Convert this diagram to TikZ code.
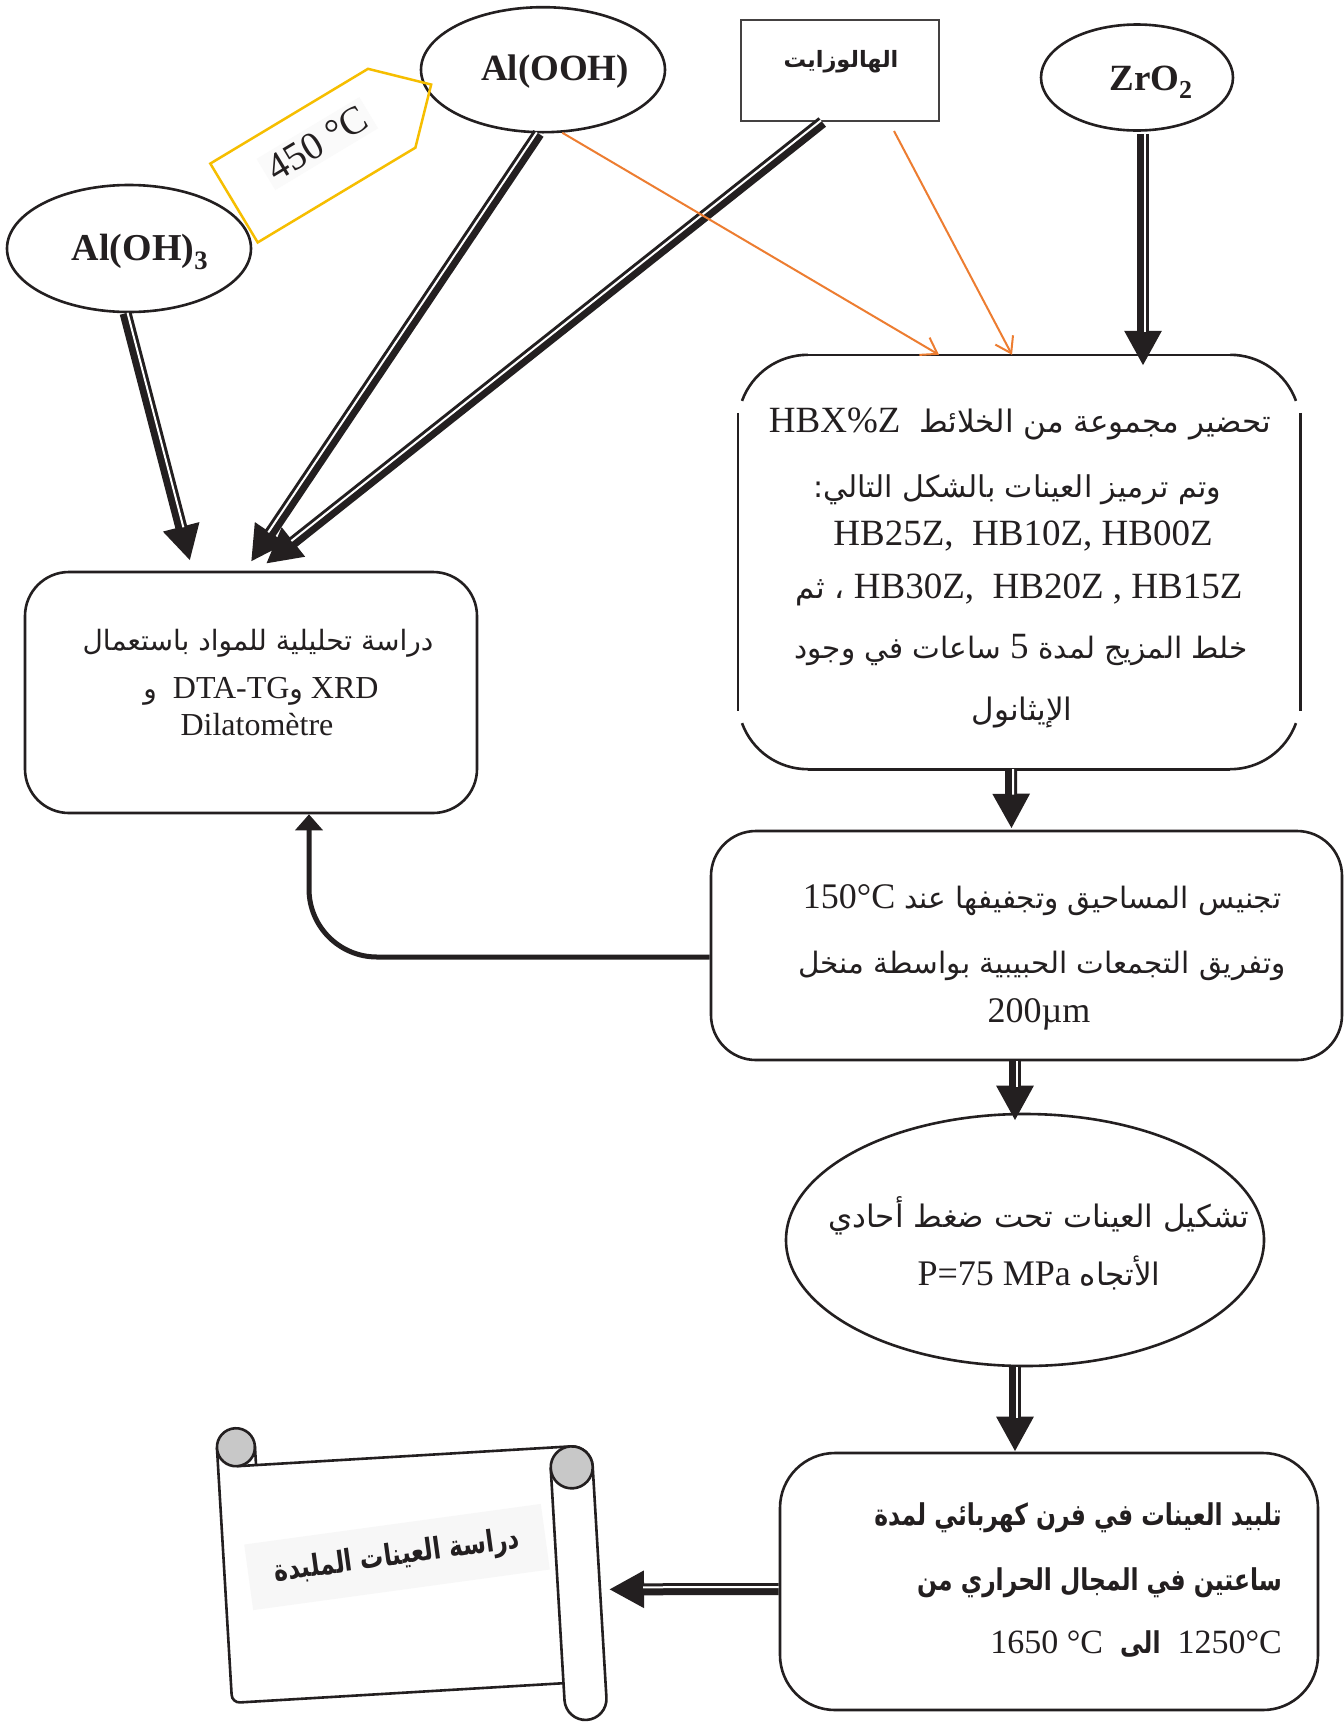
\documentclass[tikz,border=0pt]{standalone}
\usepackage{fontspec}
\setmainfont{Liberation Serif}
\newfontfamily\arabicfont[Script=Arabic]{DejaVu Sans}
\newfontfamily\arabicnarrow[Script=Arabic,FakeStretch=0.78]{DejaVu Sans}
\TeXXeTstate=1
\usetikzlibrary{arrows.meta,shapes.geometric,calc}

\definecolor{ink}{RGB}{35,31,32}
\definecolor{flowor}{RGB}{237,125,49}
\definecolor{tagyel}{RGB}{246,190,0}
\definecolor{curlgray}{RGB}{200,200,200}

\newcommand\ar[1]{{\arabicfont\beginR #1\endR}}
\newcommand\arn[1]{{\arabicnarrow\bfseries\beginR #1\endR}}
\newcommand\setfs[1]{\fontsize{#1}{#1}\selectfont}

% thick-thin twin arrow: black shaft with a white gap line beside its axis
\newcommand\twinline[4]{%
  \draw[twinshaft] (#1) -- (#2);
  \draw[twingap] ($(#1)!2pt!#3:(#2)$) -- ($(#2)!2pt!#4:(#1)$);
}

\tikzset{
  outline/.style={draw=ink, line width=2.6pt},
  roundbox/.style={outline, rounded corners=44pt, inner sep=0pt},
  oval/.style={ellipse, outline, inner sep=0pt},
  lbl/.style={inner sep=0pt, text=ink, anchor=base},
  twinshaft/.style={draw=ink, line width=12pt, -{Triangle[length=35pt,width=35pt]}},
  twingap/.style={draw=white, line width=2pt, shorten >=34pt},
  thinarrow/.style={draw=flowor, line width=2pt, -{Straight Barb[length=15pt,width=20pt,line width=2pt]}},
  looparrow/.style={draw=ink, line width=5pt, rounded corners=68pt, -{Triangle[length=16pt,width=27pt]}},
}

\begin{document}
\begin{tikzpicture}[x=1pt,y=-1pt]
\fill[white] (0,0) rectangle (1344,1722);
\useasboundingbox (0,0) rectangle (1344,1722);

% ---- starting materials ----
\node[oval, minimum width=244pt, minimum height=127pt] (aloh3) at (129,248.5) {};
\node[lbl] (aloh3-t) at (140,260) {\setfs{38}\bfseries Al(OH)\textsubscript{3}};

\node[oval, minimum width=244pt, minimum height=125pt] (aloh) at (543,69.7) {};
\node[lbl] (aloh-t) at (555,80) {\setfs{37}\bfseries Al(OOH)};

\node[draw=ink!85, line width=2pt, inner sep=0pt, minimum width=198pt, minimum height=101pt] (hal) at (840,70.5) {};
\node[lbl] (hal-t) at (841,67) {\setfs{22.5}\bfseries\ar{الهالوزايت}};

\node[oval, minimum width=192pt, minimum height=106pt] (zro) at (1137,77.5) {};
\node[lbl] (zro-t) at (1151,90) {\setfs{37}\bfseries ZrO\textsubscript{2}};

% calcination tag
\begin{scope}[shift={(234,203)}, rotate=31]
  \draw[draw=tagyel, line width=2.5pt, line join=miter] (0,-46) -- (184,-46) -- (230,0) -- (184,46) -- (0,46) -- cycle;
  \node[rotate=31, fill=black!2, inner sep=5pt, text=ink] (tagtext) at (102,-8) {\setfs{39}450 °C};
\end{scope}

% ---- analysis box ----
\node[roundbox, minimum width=452pt, minimum height=241pt] (analysis) at (251,692.5) {};
\node[lbl] (an1) at (258,650) {\setfs{28}\ar{دراسة تحليلية للمواد باستعمال}};
\node[lbl] (an2) at (261,698) {\setfs{32}{\arabicfont\setfs{28}و}\ \ DTA-TG{\arabicfont\setfs{28}و}\ XRD};
\node[lbl] (an3) at (257,735) {\setfs{32}Dilatomètre};

% ---- preparation box (corners drawn open) ----
\node[inner sep=0pt, minimum width=562pt, minimum height=414pt] (prep) at (1019,562) {};
\path (prep.north west) coordinate (pNW) (prep.north east) coordinate (pNE)
      (prep.south west) coordinate (pSW) (prep.south east) coordinate (pSE);
\draw[outline] ($(pNW)+(70,0)$) -- ($(pNE)+(-70,0)$);
\draw[outline] ($(pSW)+(70,0)$) -- ($(pSE)+(-70,0)$);
\draw[outline] ($(pNW)+(0,58)$) -- ($(pSW)+(0,-58)$);
\draw[outline] ($(pNE)+(0,58)$) -- ($(pSE)+(0,-58)$);
\draw[outline] ($(pNW)+(70,0)$) arc[start angle=-90,end angle=-160,radius=70];
\draw[outline] ($(pNE)+(-70,0)$) arc[start angle=-90,end angle=-20,radius=70];
\draw[outline] ($(pSW)+(70,0)$) arc[start angle=90,end angle=160,radius=70];
\draw[outline] ($(pSE)+(-70,0)$) arc[start angle=90,end angle=20,radius=70];

\node[lbl] (pr1) at (1020,432) {\setfs{37}HBX\%Z\ \ {\setfs{31}\ar{تحضير مجموعة من الخلائط}}};
\node[lbl] (pr2) at (1017,497) {\setfs{30}\ar{وتم ترميز  العينات بالشكل التالي:}};
\node[lbl] (pr3) at (1023,545) {\setfs{37}HB25Z,\ \ HB10Z, HB00Z};
\node[lbl] (pr4) at (1019,598) {\setfs{37}{\setfs{31}\ar{، ثم}} HB30Z,\ \ HB20Z , HB15Z};
\node[lbl] (pr5) at (1021,658) {\setfs{29.5}\ar{خلط المزيج لمدة {\rmfamily\setfs{37}5} ساعات في وجود}};
\node[lbl] (pr6) at (1022,720) {\setfs{31}\ar{الإيثانول}};

% ---- homogenisation box ----
\node[roundbox, rounded corners=45pt, minimum width=631pt, minimum height=229pt] (homog) at (1026.5,945.5) {};
\node[lbl] (ho1) at (1042,908) {\setfs{36}150°C {\setfs{29.5}\ar{تجنيس المساحيق وتجفيفها عند}}};
\node[lbl] (ho2) at (1042,973) {\setfs{29.5}\ar{وتفريق التجمعات الحبيبية بواسطة منخل}};
\node[lbl] (ho3) at (1039,1022) {\setfs{36}200µm};

% ---- shaping ----
\node[oval, minimum width=478pt, minimum height=252pt] (shape) at (1025,1240) {};
\node[lbl] (sh1) at (1039,1227) {\setfs{31}\ar{تشكيل العينات تحت ضغط أحادي}};
\node[lbl] (sh2) at (1039,1285) {\setfs{36}P=75 MPa {\setfs{31}\ar{الأتجاه}}};

% ---- sintering box ----
\node[roundbox, rounded corners=55pt, minimum width=538pt, minimum height=257pt] (sinter) at (1049,1581.5) {};
\node[lbl, anchor=base east] (si1) at (1282,1525) {\setfs{30}\arn{تلبيد العينات في فرن كهربائي لمدة}};
\node[lbl, anchor=base east] (si2) at (1282,1590) {\setfs{30}\arn{ساعتين في المجال الحراري من}};
\node[lbl, anchor=base east] (si3) at (1282,1653) {\setfs{34}1650 °C\ \ {\setfs{30}\arn{الى}}\ \ 1250°C};

% ---- scroll ----
\begin{scope}[shift={(412,1578)}, rotate=3.4]
  \fill[white] (-187,-122) rectangle (187,114);
  \draw[outline, rounded corners=8pt] (-187,-141) -- (-187,114) -- (145,114);
  \draw[outline] (-168,-122) -- (166,-122) arc[start angle=-90,end angle=0,radius=21]
        -- (187,131) arc[start angle=0,end angle=180,radius=21] -- (145,-101);
  \draw[outline, fill=curlgray] (166,-101) circle[radius=21];
  \draw[outline, fill=curlgray] (-168,-141) circle[radius=19];
  \draw[outline] (-149,-141) -- (-149,-123);
  \coordinate (scrollin) at (196,23);
\end{scope}
\node[rotate=7.8, fill=black!3, inner xsep=26pt, inner ysep=18pt, text=ink] (scrolltext) at (397,1557) {\setfs{30}\arn{دراسة العينات الملبدة}};

% ---- connectors ----
\twinline{aloh3.267}{$(analysis.north)+(-61,-10)$}{90}{-90}
\twinline{aloh.266}{$(analysis.north)+(0,-9)$}{-90}{90}
\twinline{hal.251}{$(analysis.north)+(15,-7)$}{-90}{90}
\twinline{$(zro.south)+(6,2)$}{$(prep.north)+(124,11)$}{90}{-90}
\twinline{$(prep.south)+(-8,0)$}{$(homog.north)+(-15,-1)$}{90}{-90}
\twinline{$(homog.south)+(-11.5,0)$}{$(shape.north)+(-10,8)$}{90}{-90}
\twinline{$(shape.south)+(-10,0)$}{$(sinter.north)+(-34,0)$}{90}{-90}
\twinline{$(sinter.west)+(0,7.5)$}{scrollin}{-90}{90}

\draw[thinarrow] (aloh.-73) -- ($(prep.north)+(-80,0)$);
\draw[thinarrow] ($(hal.south)+(54,9)$) -- ($(prep.north)+(-7,0)$);

\draw[looparrow] ($(homog.west)+(0,11.5)$) -| ($(analysis.south)+(58,0)$);
\end{tikzpicture}
\end{document}
